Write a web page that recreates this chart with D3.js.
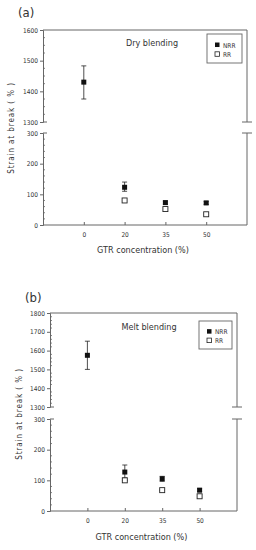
<!DOCTYPE html>
<html>
<head>
<meta charset="utf-8">
<script src="https://cdn.jsdelivr.net/npm/d3@7"></script>
<style>
  body { margin: 0; background: #fff; }
  text { font-family: "Liberation Sans Narrow", "DejaVu Sans Condensed", "Arial Narrow", sans-serif; font-stretch: condensed; fill: #333; }
</style>
</head>
<body>
<div id="chart"></div>
<script>
// data
var concentrations = ["0", "20", "35", "50"];

var dryNRR = [1430, 123, 73, 72];
var dryNRRLow = [1375, 110, 68, 67];
var dryNRRHigh = [1483, 140, 78, 77];
var dryRR = [null, 80, 52, 35];

var meltNRR = [1575, 127, 105, 68];
var meltNRRLow = [1500, 108, 97, 63];
var meltNRRHigh = [1650, 150, 113, 73];
var meltRR = [null, 100, 68, 48];
var meltRRLow = [null, 100, 68, 43];
var meltRRHigh = [null, 100, 68, 54];

var upperTicksA = [1300, 1400, 1500, 1600];
var upperTicksB = [1300, 1400, 1500, 1600, 1700, 1800];
var lowerTicks = [0, 100, 200, 300];

var axisColor = "#666";

var svg = d3.select("#chart").append("svg")
    .attr("width", 256)
    .attr("height", 550);

function drawPanel(p) {
    var g = svg.append("g");

    var x = d3.scaleLinear().domain([-1, 4]).range([p.left, p.right]);
    var yTop = d3.scaleLinear().domain(p.topDomain).range([p.topBottom, p.top]);
    var yBot = d3.scaleLinear().domain([0, 300]).range([p.bottom, p.botTop]);

    // pick the right scale for a value
    function y(v) { return v >= 1000 ? yTop(v) : yBot(v); }

    // frame lines
    g.append("line").attr("x1", p.left).attr("x2", p.right).attr("y1", p.top).attr("y2", p.top)
        .attr("stroke", axisColor);
    g.append("line").attr("x1", p.left).attr("x2", p.right).attr("y1", p.bottom).attr("y2", p.bottom)
        .attr("stroke", axisColor);

    // left axes
    var leftTop = g.append("g").attr("transform", "translate(" + p.left + ",0)")
        .call(d3.axisLeft(yTop).tickValues(p.topTicks).tickSize(3).tickPadding(2).tickFormat(d3.format("d")));
    var leftBot = g.append("g").attr("transform", "translate(" + p.left + ",0)")
        .call(d3.axisLeft(yBot).tickValues(lowerTicks).tickSize(3).tickPadding(2).tickFormat(d3.format("d")));
    [leftTop, leftBot].forEach(function (a) {
        a.select(".domain").attr("stroke", axisColor);
        a.selectAll(".tick line").attr("stroke", axisColor);
        a.selectAll("text").style("font-size", "6.5px").attr("fill", "#444");
    });

    // minor ticks on the left, pointing in
    var minorTop = d3.range(p.topDomain[0], p.topDomain[1], p.minorStep)
        .filter(function (v) { return v % 100 !== 0; });
    var minorBot = d3.range(0, 300, 20).filter(function (v) { return v % 100 !== 0; });
    g.selectAll(".minorTop").data(minorTop).enter().append("line")
        .attr("x1", p.left).attr("x2", p.left + 2)
        .attr("y1", function (d) { return yTop(d); }).attr("y2", function (d) { return yTop(d); })
        .attr("stroke", axisColor).attr("stroke-width", 0.8);
    g.selectAll(".minorBot").data(minorBot).enter().append("line")
        .attr("x1", p.left).attr("x2", p.left + 2)
        .attr("y1", function (d) { return yBot(d); }).attr("y2", function (d) { return yBot(d); })
        .attr("stroke", axisColor).attr("stroke-width", 0.8);

    // break marks on the left
    [yTop(1300), yBot(300)].forEach(function (yy) {
        g.append("line").attr("x1", p.left).attr("x2", p.left + 4).attr("y1", yy).attr("y2", yy)
            .attr("stroke", axisColor);
    });

    // right axis with break
    g.append("line").attr("x1", p.right).attr("x2", p.right).attr("y1", p.top).attr("y2", yTop(1300))
        .attr("stroke", axisColor);
    g.append("line").attr("x1", p.right).attr("x2", p.right).attr("y1", yBot(300)).attr("y2", p.bottom)
        .attr("stroke", axisColor);
    [yTop(1300), yBot(300)].forEach(function (yy) {
        g.append("line").attr("x1", p.right - 5).attr("x2", p.right + 5).attr("y1", yy).attr("y2", yy)
            .attr("stroke", axisColor);
    });

    // x axis
    var xa = g.append("g").attr("transform", "translate(0," + p.bottom + ")")
        .call(d3.axisBottom(x).tickValues([0, 1, 2, 3]).tickSize(-3).tickPadding(7)
            .tickFormat(function (d) { return concentrations[d]; }));
    xa.select(".domain").remove();
    xa.selectAll(".tick line").attr("stroke", axisColor);
    xa.selectAll("text").style("font-size", "6.5px").attr("fill", "#444");

    // axis labels
    g.append("text")
        .attr("x", (p.left + p.right) / 2 - 2)
        .attr("y", p.xLabelY)
        .attr("text-anchor", "middle")
        .style("font-size", "9px")
        .text("GTR concentration (%)");

    g.append("text")
        .attr("transform", "translate(" + p.yLabelX + "," + p.yLabelY + ") rotate(-90)")
        .attr("text-anchor", "middle")
        .style("font-size", "8px")
        .style("letter-spacing", "0.9px")
        .text("Strain at break ( % )");

    // panel letter and title
    g.append("text")
        .attr("x", p.letterX).attr("y", p.letterY)
        .style("font-size", "13px").attr("fill", "#111")
        .text(p.letter);

    g.append("text")
        .attr("x", p.titleX).attr("y", p.titleY)
        .attr("text-anchor", "middle")
        .style("font-size", "9px")
        .text(p.title);

    // error bars
    var err = [];
    p.nrr.forEach(function (v, i) { err.push({ i: i, lo: p.nrrLow[i], hi: p.nrrHigh[i] }); });
    if (p.rrLow) {
        p.rr.forEach(function (v, i) { if (v !== null) err.push({ i: i, lo: p.rrLow[i], hi: p.rrHigh[i] }); });
    }
    err.forEach(function (e) {
        var cx = x(e.i);
        g.append("line").attr("x1", cx).attr("x2", cx).attr("y1", y(e.lo)).attr("y2", y(e.hi))
            .attr("stroke", "#222").attr("stroke-width", 0.8);
        [e.lo, e.hi].forEach(function (v) {
            g.append("line").attr("x1", cx - 2.5).attr("x2", cx + 2.5).attr("y1", y(v)).attr("y2", y(v))
                .attr("stroke", "#222").attr("stroke-width", 0.8);
        });
    });

    var s = 5;
    // RR open squares
    g.selectAll(".rr").data(p.rr.map(function (v, i) { return { v: v, i: i }; })
            .filter(function (d) { return d.v !== null; }))
        .enter().append("rect")
        .attr("x", function (d) { return x(d.i) - s / 2; })
        .attr("y", function (d) { return y(d.v) - s / 2; })
        .attr("width", s).attr("height", s)
        .attr("fill", "#fff").attr("stroke", "#222").attr("stroke-width", 0.9);

    // NRR filled squares
    g.selectAll(".nrr").data(p.nrr.map(function (v, i) { return { v: v, i: i }; }))
        .enter().append("rect")
        .attr("x", function (d) { return x(d.i) - s / 2; })
        .attr("y", function (d) { return y(d.v) - s / 2; })
        .attr("width", s).attr("height", s)
        .attr("fill", "#111");

    // legend
    var lg = g.append("g").attr("transform", "translate(" + p.legX + "," + p.legY + ")");
    lg.append("rect").attr("width", p.legW).attr("height", p.legH)
        .attr("fill", "#fff").attr("stroke", axisColor).attr("stroke-width", 0.9);
    lg.append("rect").attr("x", 8).attr("y", p.legH * 0.38 - 2.5).attr("width", 4.5).attr("height", 4.5)
        .attr("fill", "#111");
    lg.append("rect").attr("x", 8).attr("y", p.legH * 0.7 - 2.5).attr("width", 4.5).attr("height", 4.5)
        .attr("fill", "#fff").attr("stroke", "#222").attr("stroke-width", 0.8);
    lg.append("text").attr("x", 16).attr("y", p.legH * 0.38 + 2.5).style("font-size", "6.5px").text("NRR");
    lg.append("text").attr("x", 16).attr("y", p.legH * 0.7 + 2.5).style("font-size", "6.5px").text("RR");
}

drawPanel({
    left: 43, right: 247,
    top: 30, topBottom: 122, topDomain: [1300, 1600], topTicks: upperTicksA, minorStep: 25,
    botTop: 133, bottom: 225,
    nrr: dryNRR, nrrLow: dryNRRLow, nrrHigh: dryNRRHigh, rr: dryRR,
    xLabelY: 253, yLabelX: 14, yLabelY: 128,
    letter: "(a)", letterX: 18, letterY: 17,
    title: "Dry blending", titleX: 152, titleY: 46,
    legX: 207, legY: 34, legW: 35, legH: 29
});

drawPanel({
    left: 50, right: 237,
    top: 313, topBottom: 407, topDomain: [1300, 1800], topTicks: upperTicksB, minorStep: 20,
    botTop: 419, bottom: 511,
    nrr: meltNRR, nrrLow: meltNRRLow, nrrHigh: meltNRRHigh, rr: meltRR,
    rrLow: meltRRLow, rrHigh: meltRRHigh,
    xLabelY: 540, yLabelX: 22, yLabelY: 414,
    letter: "(b)", letterX: 25, letterY: 302,
    title: "Melt blending", titleX: 149, titleY: 330,
    legX: 199, legY: 321, legW: 33, legH: 28
});
</script>
</body>
</html>
